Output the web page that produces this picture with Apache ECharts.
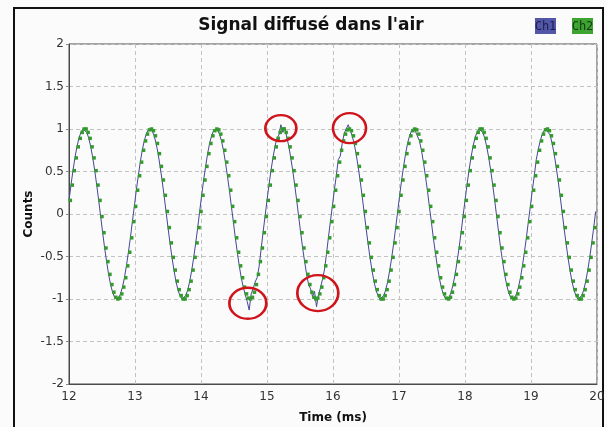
<!DOCTYPE html>
<html><head><meta charset="utf-8">
<script src="https://cdn.jsdelivr.net/npm/echarts@6/dist/echarts.min.js"></script>
<style>html,body{margin:0;padding:0;background:#fcfbfc;}#c{width:607px;height:427px;}</style>
</head><body><div id="c"></div>
<script>
const chartTitle = "Signal diffusé dans l'air";
const seriesNames = ['Ch1', 'Ch2'];
const xName = 'Time (ms)';
const yName = 'Counts';
const xRange = [12, 20];
const yRange = [-2, 2];
// sampling grid of each channel (ms)
const ch1Start = 12.00, ch2Start = 12.02, sampleStep = 0.03;

const ch1Counts = [
0.16,0.34,0.51,0.66,0.79,0.89,0.96,1.00,1.00,0.96,0.89,0.79,0.66,0.51,0.34,0.16,-0.03,-0.22,-0.40,-0.56,-0.71,-0.83,-0.92,-0.98,-1.00,-0.99,-0.94,-0.86,-0.75,-0.61,-0.45,-0.28,-0.09,
0.09,0.28,0.45,0.61,0.75,0.86,0.94,0.99,1.00,0.98,0.92,0.83,0.71,0.56,0.40,0.22,0.03,-0.16,-0.34,-0.51,-0.66,-0.79,-0.89,-0.96,-1.00,-1.00,-0.96,-0.89,-0.79,-0.66,-0.51,-0.34,-0.16,
0.03,0.22,0.40,0.56,0.71,0.83,0.92,0.98,1.00,0.99,0.94,0.86,0.75,0.61,0.45,0.28,0.09,-0.09,-0.28,-0.45,-0.61,-0.75,-0.86,-0.95,-1.03,-1.13,-0.94,-0.88,-0.80,-0.75,-0.62,-0.42,-0.22,-0.03,
0.16,0.34,0.51,0.66,0.79,0.89,0.93,1.05,0.96,1.02,0.90,0.80,0.66,0.51,0.34,0.16,-0.03,-0.22,-0.40,-0.56,-0.71,-0.83,-0.88,-0.97,-0.91,-1.09,-0.95,-0.87,-0.77,-0.66,-0.48,-0.28,-0.09,
0.09,0.28,0.45,0.64,0.68,0.83,0.95,1.00,1.05,0.99,0.92,0.83,0.71,0.56,0.40,0.22,0.03,-0.16,-0.34,-0.51,-0.66,-0.79,-0.89,-0.96,-1.00,-1.00,-0.96,-0.89,-0.79,-0.66,-0.51,-0.34,-0.16,
0.03,0.22,0.40,0.56,0.71,0.83,0.92,0.98,1.01,0.97,0.95,0.86,0.75,0.61,0.45,0.28,0.09,-0.09,-0.28,-0.45,-0.61,-0.75,-0.86,-0.94,-0.99,-1.00,-0.98,-0.92,-0.83,-0.71,-0.56,-0.40,-0.22,-0.03,
0.16,0.34,0.51,0.66,0.79,0.89,0.96,1.00,1.00,0.96,0.89,0.79,0.66,0.51,0.34,0.16,-0.03,-0.22,-0.40,-0.56,-0.71,-0.83,-0.92,-0.98,-1.00,-0.99,-0.94,-0.86,-0.75,-0.61,-0.45,-0.28,-0.09,
0.09,0.28,0.45,0.64,0.76,0.86,0.94,0.98,1.01,0.96,0.93,0.83,0.71,0.56,0.40,0.22,0.03,-0.16,-0.34,-0.51,-0.66,-0.79,-0.89,-0.96,-1.00,-1.00,-0.96,-0.89,-0.79,-0.66,-0.51,-0.34,-0.16,
0.03
];

const ch2Counts = [
0.16,0.34,0.51,0.66,0.79,0.89,0.96,1.00,1.00,0.96,0.89,0.79,0.66,0.51,0.34,0.16,-0.03,-0.22,-0.40,-0.56,-0.71,-0.83,-0.92,-0.98,-1.00,-0.99,-0.94,-0.86,-0.75,-0.61,-0.45,-0.28,-0.09,
0.09,0.28,0.45,0.61,0.75,0.86,0.94,0.99,1.00,0.98,0.92,0.83,0.71,0.56,0.40,0.22,0.03,-0.16,-0.34,-0.51,-0.66,-0.79,-0.89,-0.96,-1.00,-1.00,-0.96,-0.89,-0.79,-0.66,-0.51,-0.34,-0.16,
0.03,0.22,0.40,0.56,0.71,0.83,0.92,0.98,1.00,0.99,0.94,0.86,0.75,0.61,0.45,0.28,0.09,-0.09,-0.28,-0.45,-0.61,-0.75,-0.86,-0.94,-0.99,-1.00,-0.98,-0.92,-0.83,-0.71,-0.56,-0.40,-0.22,-0.03,
0.16,0.34,0.51,0.66,0.79,0.89,0.96,1.00,1.00,0.96,0.89,0.79,0.66,0.51,0.34,0.16,-0.03,-0.22,-0.40,-0.56,-0.71,-0.83,-0.92,-0.98,-1.00,-0.99,-0.94,-0.86,-0.75,-0.61,-0.45,-0.28,-0.09,
0.09,0.28,0.45,0.61,0.75,0.86,0.94,0.99,1.00,0.98,0.92,0.83,0.71,0.56,0.40,0.22,0.03,-0.16,-0.34,-0.51,-0.66,-0.79,-0.89,-0.96,-1.00,-1.00,-0.96,-0.89,-0.79,-0.66,-0.51,-0.34,-0.16,
0.03,0.22,0.40,0.56,0.71,0.83,0.92,0.98,1.00,0.99,0.94,0.86,0.75,0.61,0.45,0.28,0.09,-0.09,-0.28,-0.45,-0.61,-0.75,-0.86,-0.94,-0.99,-1.00,-0.98,-0.92,-0.83,-0.71,-0.56,-0.40,-0.22,-0.03,
0.16,0.34,0.51,0.66,0.79,0.89,0.96,1.00,1.00,0.96,0.89,0.79,0.66,0.51,0.34,0.16,-0.03,-0.22,-0.40,-0.56,-0.71,-0.83,-0.92,-0.98,-1.00,-0.99,-0.94,-0.86,-0.75,-0.61,-0.45,-0.28,-0.09,
0.09,0.28,0.45,0.61,0.75,0.86,0.94,0.99,1.00,0.98,0.92,0.83,0.71,0.56,0.40,0.22,0.03,-0.16,-0.34,-0.51,-0.66,-0.79,-0.89,-0.96,-1.00,-1.00,-0.96,-0.89,-0.79,-0.66,-0.51,-0.34,-0.16
];

// red annotation rings around the glitches (centre in data units)
const glitchTimes = [15.21, 16.25, 14.71, 15.77];
const glitchCounts = [1.01, 1.01, -1.05, -0.93];
const glitchRingSizes = [[31, 26], [33, 30], [37, 31], [41, 36]];

const ch1Data = ch1Counts.map((v, i) => [+(ch1Start + i * sampleStep).toFixed(3), v]);
const ch2Data = ch2Counts.map((v, i) => [+(ch2Start + i * sampleStep).toFixed(3), v]);
const ringData = glitchTimes.map((t, i) => ({value: [t, glitchCounts[i]], symbolSize: glitchRingSizes[i]}));

const chart = echarts.init(document.getElementById('c'), null, {renderer: 'canvas'});
const FONT = 'DejaVu Sans';
chart.setOption({
  animation: false,
  backgroundColor: '#fcfbfc',
  title: {
    text: chartTitle, left: 306, top: 12, textAlign: 'center',
    textStyle: {fontFamily: FONT, fontSize: 17, fontWeight: 'bold', color: '#111'}
  },
  grid: {left: 69, right: 10, top: 44, bottom: 43, outerBoundsMode: 'none', containLabel: false,
         show: true, borderColor: '#4a4a4a', borderWidth: 1, backgroundColor: 'transparent'},
  xAxis: {
    type: 'value', min: xRange[0], max: xRange[1], interval: 1,
    name: xName, nameLocation: 'middle', nameGap: 28, nameMoveOverlap: false,
    nameTextStyle: {fontFamily: FONT, fontSize: 12, fontWeight: 'bold', color: '#111'},
    axisLine: {show: true, onZero: false, lineStyle: {color: '#4a4a4a'}},
    axisTick: {show: false},
    axisLabel: {fontFamily: FONT, fontSize: 12, color: '#333', margin: 7},
    splitLine: {show: true, lineStyle: {color: '#c2c2c2', type: [4, 3], width: 1}}
  },
  yAxis: {
    type: 'value', min: yRange[0], max: yRange[1], interval: 0.5,
    name: yName, nameLocation: 'middle', nameGap: 34, nameMoveOverlap: false,
    nameTextStyle: {fontFamily: FONT, fontSize: 12, fontWeight: 'bold', color: '#111'},
    axisLine: {show: true, onZero: false, lineStyle: {color: '#4a4a4a'}},
    axisTick: {show: true, length: 3, lineStyle: {color: '#888'}},
    axisLabel: {fontFamily: FONT, fontSize: 12, color: '#333', margin: 5},
    splitLine: {show: true, lineStyle: {color: '#c2c2c2', type: [4, 3], width: 1}}
  },
  series: [
    {name: seriesNames[0], type: 'line', data: ch1Data, showSymbol: false, smooth: false,
     lineStyle: {color: '#434894', width: 1}, itemStyle: {color: '#434894'}, z: 2},
    {name: seriesNames[1], type: 'scatter', data: ch2Data, symbol: 'rect', symbolSize: 3.5,
     itemStyle: {color: '#359a2e', opacity: 1}, z: 3},
    {name: 'glitches', type: 'scatter', data: ringData, symbol: 'circle',
     itemStyle: {color: 'rgba(0,0,0,0)', borderColor: '#d0141b', borderWidth: 2.5, opacity: 1}, z: 4}
  ],
  graphic: [
    {type: 'line', shape: {x1: 14, y1: 8, x2: 14, y2: 427}, style: {stroke: '#111', lineWidth: 2}},
    {type: 'line', shape: {x1: 13, y1: 8, x2: 604, y2: 8}, style: {stroke: '#111', lineWidth: 2}},
    {type: 'line', shape: {x1: 603, y1: 8, x2: 603, y2: 427}, style: {stroke: '#111', lineWidth: 2}},
    {type: 'rect', shape: {x: 535, y: 18, width: 21, height: 16}, style: {fill: '#5256a6'}},
    {type: 'text', x: 545.5, y: 26.5, style: {text: seriesNames[0], font: '12px "DejaVu Sans Mono"', fill: '#1c1c4c', align: 'center', verticalAlign: 'middle'}},
    {type: 'rect', shape: {x: 572, y: 18, width: 21, height: 16}, style: {fill: '#3da331'}},
    {type: 'text', x: 582.5, y: 26.5, style: {text: seriesNames[1], font: '12px "DejaVu Sans Mono"', fill: '#163a16', align: 'center', verticalAlign: 'middle'}}
  ]
});
</script></body></html>
